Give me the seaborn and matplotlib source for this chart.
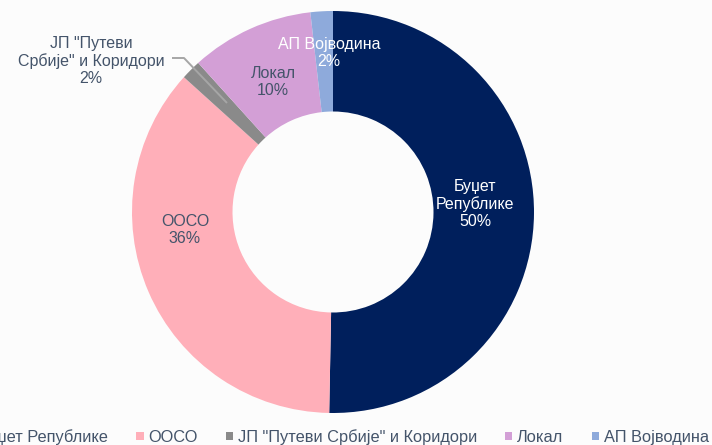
import matplotlib
matplotlib.use("Agg")
import matplotlib.pyplot as plt
from matplotlib.patches import Patch
import seaborn as sns

# Funding sources and their shares (%)
sources = ["Буџет Републике", "ООСО", "ЈП \"Путеви Србије\" и Коридори", "Локал", "АП Војводина"]
shares = [50.3, 36.4, 1.6, 9.9, 1.8]
label_names = ["Буџет\nРепублике", "ООСО", "ЈП \"Путеви\nСрбије\" и Коридори", "Локал", "АП Војводина"]
colors = ["#001f5c", "#ffafb9", "#8a8a8a", "#d39fd6", "#8eaadb"]
label_colors = ["white", "#44546a", "#44546a", "#44546a", "white"]

sns.set_theme(style="white")
plt.rcParams["font.family"] = ["Liberation Sans", "DejaVu Sans"]

W, H = 712, 445
bg = "#fcfcfc"
fig = plt.figure(figsize=(W / 100, H / 100), dpi=100, facecolor=bg)
ax = fig.add_axes([0, 0, 1, 1])
ax.set_facecolor(bg)

cx, cy, R = 333, H - 212, 201
wedges, _ = ax.pie(shares, colors=colors, startangle=90, counterclock=False,
                   radius=R, center=(cx, cy), frame=True,
                   wedgeprops=dict(width=R * 0.5, linewidth=0))
ax.set_xlim(0, W)
ax.set_ylim(0, H)
ax.set_aspect("equal")
ax.axis("off")

# data label placement (pixel coords from top-left)
label_pos = [(475, 204), (185, 230), (91, 61), (273, 82), (329, 53)]
fs = 11.5
for name, val, pos, col in zip(label_names, shares, label_pos, label_colors):
    ax.text(pos[0], H - pos[1], f"{name}\n{round(val):d}%", ha="center", va="center",
            color=col, fontsize=fs, linespacing=1.15)

# leader line for the small slice
ax.plot([172, 184, 227], [H - 58, H - 58, H - 103], color="#a6a6a6", lw=1.4,
        solid_capstyle="butt", zorder=3)

handles = [Patch(facecolor=c, edgecolor="none") for c in colors]
leg = ax.legend(handles, sources, loc="center right", bbox_to_anchor=(717 / W, 1 - 437 / H),
                ncol=5, frameon=False, fontsize=11.8, handlelength=0.45, handleheight=0.45,
                handletextpad=0.3, columnspacing=1.7, borderpad=0, labelcolor="#44546a")

fig.savefig("out.png", dpi=100, facecolor=bg)
